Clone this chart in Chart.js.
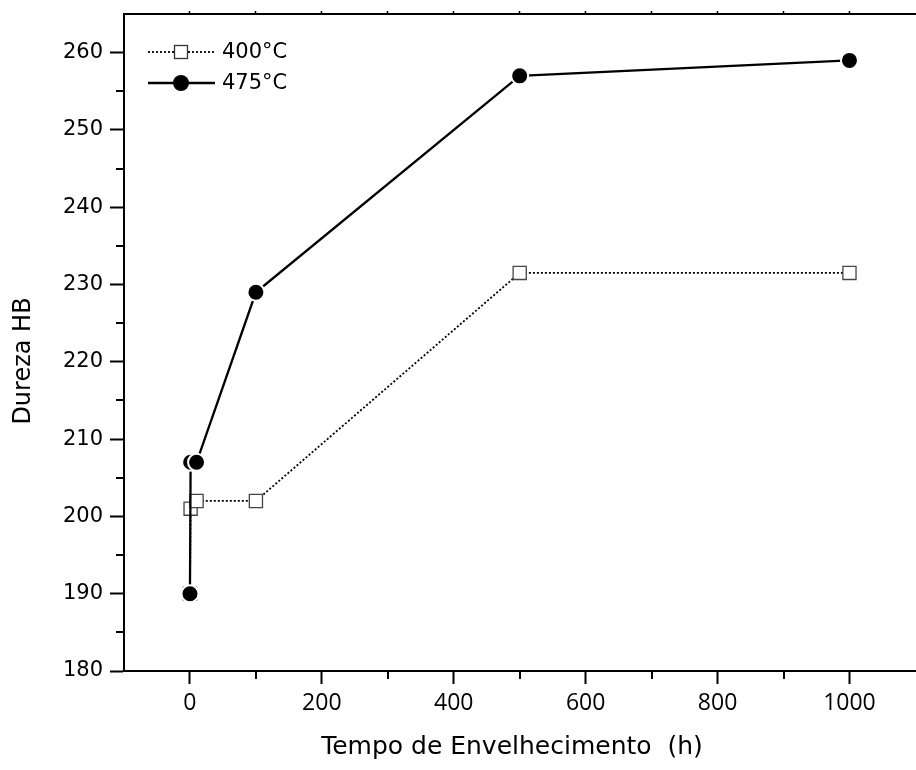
<!DOCTYPE html>
<html>
<head>
<meta charset="utf-8">
<script src="https://cdn.jsdelivr.net/npm/chart.js@4.4.0/dist/chart.umd.min.js"></script>
<style>
  html, body { margin: 0; padding: 0; background: #fff; overflow: hidden; }
  #wrap { width: 926px; height: 770px; }
</style>
</head>
<body>
<div id="wrap"><canvas id="hardness" width="926" height="770"></canvas></div>
<script>
// aging time (h) and hardness (HB)
const times = [0, 1, 10, 100, 500, 1000];
const hb400 = [190, 201, 202, 202, 231.5, 231.5];
const hb475 = [190, 207, 207, 229, 257, 259];
const seriesNames = ["400°C", "475°C"];
const xTicks = [0, 100, 200, 300, 400, 500, 600, 700, 800, 900, 1000];
const yTicks = [180, 185, 190, 195, 200, 205, 210, 215, 220, 225, 230, 235, 240, 245, 250, 255, 260];

const toPoints = (xs, ys) => xs.map((x, i) => ({ x: x, y: ys[i] }));

const isMajorX = v => v % 200 === 0;
const isMajorY = v => v % 10 === 0;

// keep the plot box where the figure has it
const noPad = s => { s.paddingTop = 0; s.paddingBottom = 0; s.paddingLeft = 0; s.paddingRight = 0; };

// short ticks for the minor values + legend with line sample + axis titles
const extras = {
  id: "extras",
  afterDraw(chart) {
    const ctx = chart.ctx;
    const xs = chart.scales.x, ys = chart.scales.y;
    const area = chart.chartArea;
    ctx.save();
    ctx.strokeStyle = "#000";
    ctx.lineWidth = 2;
    xTicks.filter(v => !isMajorX(v)).forEach(v => {
      const px = Math.round(xs.getPixelForValue(v));
      ctx.beginPath();
      ctx.moveTo(px, area.bottom);
      ctx.lineTo(px, area.bottom + 8);
      ctx.stroke();
    });
    yTicks.filter(v => !isMajorY(v)).forEach(v => {
      const py = Math.round(ys.getPixelForValue(v));
      ctx.beginPath();
      ctx.moveTo(area.left, py);
      ctx.lineTo(area.left - 8, py);
      ctx.stroke();
    });

    // legend
    const rows = [52, 83];
    chart.data.datasets.slice().sort((a, b) => a.legendIdx - b.legendIdx).forEach((ds, i) => {
      const y = rows[i];
      ctx.strokeStyle = "#000";
      ctx.beginPath();
      ctx.lineWidth = ds.borderWidth;
      ctx.setLineDash(ds.borderDash || []);
      ctx.moveTo(148, y);
      ctx.lineTo(215, y);
      ctx.stroke();
      ctx.setLineDash([]);
      if (ds.pointStyle === "rect") {
        ctx.fillStyle = "#fff";
        ctx.fillRect(174, y - 7, 14, 14);
        ctx.lineWidth = 1.3;
        ctx.strokeStyle = "#333";
        ctx.strokeRect(174.5, y - 6.5, 13, 13);
      } else {
        ctx.fillStyle = "#000";
        ctx.beginPath();
        ctx.arc(181, y, 8, 0, Math.PI * 2);
        ctx.fill();
      }
      ctx.fillStyle = "#000";
      ctx.font = "21px 'DejaVu Sans'";
      ctx.textAlign = "left";
      ctx.textBaseline = "middle";
      ctx.fillText(ds.label, 222, y + 1);
    });

    // axis titles
    ctx.fillStyle = "#000";
    ctx.font = "25px 'DejaVu Sans'";
    ctx.textAlign = "center";
    ctx.textBaseline = "middle";
    ctx.fillText("Tempo de Envelhecimento  (h)", 512, 747);
    ctx.translate(24, 361);
    ctx.rotate(-Math.PI / 2);
    ctx.font = "24px 'DejaVu Sans'";
    ctx.fillText("Dureza HB", 0, 0);
    ctx.restore();
  }
};

new Chart(document.getElementById("hardness"), {
  type: "line",
  data: {
    datasets: [
      {
        label: seriesNames[1],
        legendIdx: 1,
        data: toPoints(times, hb475),
        borderColor: "#000",
        borderWidth: 2.3,
        pointStyle: "circle",
        pointRadius: 8.5,
        pointBackgroundColor: "#000",
        pointBorderColor: "#fff",
        pointBorderWidth: 2,
        order: 0
      },
      {
        label: seriesNames[0],
        legendIdx: 0,
        data: toPoints(times, hb400),
        borderColor: "#000",
        borderWidth: 1.8,
        borderDash: [2, 2],
        pointStyle: "rect",
        pointRadius: 9.3,
        pointBackgroundColor: "#fff",
        pointBorderColor: "#444",
        pointBorderWidth: 1.3,
        order: 1
      }
    ]
  },
  options: {
    responsive: false,
    animation: false,
    layout: { padding: 0 },
    plugins: { legend: { display: false }, tooltip: { enabled: false } },
    scales: {
      x: {
        type: "linear",
        position: "bottom",
        min: -100,
        max: 1100,
        afterBuildTicks: s => { s.ticks = xTicks.map(v => ({ value: v })); },
        afterFit: s => { s.height = 99; noPad(s); },
        border: { display: true, color: "#000", width: 2 },
        grid: {
          drawOnChartArea: false,
          tickLength: 13,
          tickWidth: 2,
          tickColor: c => (c.tick && isMajorX(c.tick.value)) ? "#000" : "rgba(0,0,0,0)"
        },
        ticks: {
          autoSkip: false,
          maxRotation: 0,
          padding: 6,
          color: "#000",
          font: { family: "'Open Sans'", size: 23 },
          callback: v => isMajorX(v) ? String(v) : ""
        }
      },
      xTop: {
        type: "linear",
        position: "top",
        min: -100,
        max: 1100,
        afterBuildTicks: s => { s.ticks = xTicks.map(v => ({ value: v })); },
        afterFit: s => { s.height = 14; noPad(s); },
        border: { display: true, color: "#000", width: 2 },
        grid: { drawOnChartArea: false, tickLength: 3, tickWidth: 1.5, tickColor: "#000" },
        ticks: { display: false }
      },
      y: {
        type: "linear",
        min: 180,
        max: 265,
        afterBuildTicks: s => { s.ticks = yTicks.map(v => ({ value: v })); },
        afterFit: s => { s.width = 124; noPad(s); },
        border: { display: true, color: "#000", width: 2 },
        grid: {
          drawOnChartArea: false,
          tickLength: 14,
          tickWidth: 2,
          tickColor: c => (c.tick && isMajorY(c.tick.value)) ? "#000" : "rgba(0,0,0,0)"
        },
        ticks: {
          autoSkip: false,
          padding: 7,
          color: "#000",
          font: { family: "'DejaVu Sans'", size: 21 },
          callback: v => isMajorY(v) ? String(v) : ""
        }
      }
    }
  },
  plugins: [extras]
});
</script>
</body>
</html>
